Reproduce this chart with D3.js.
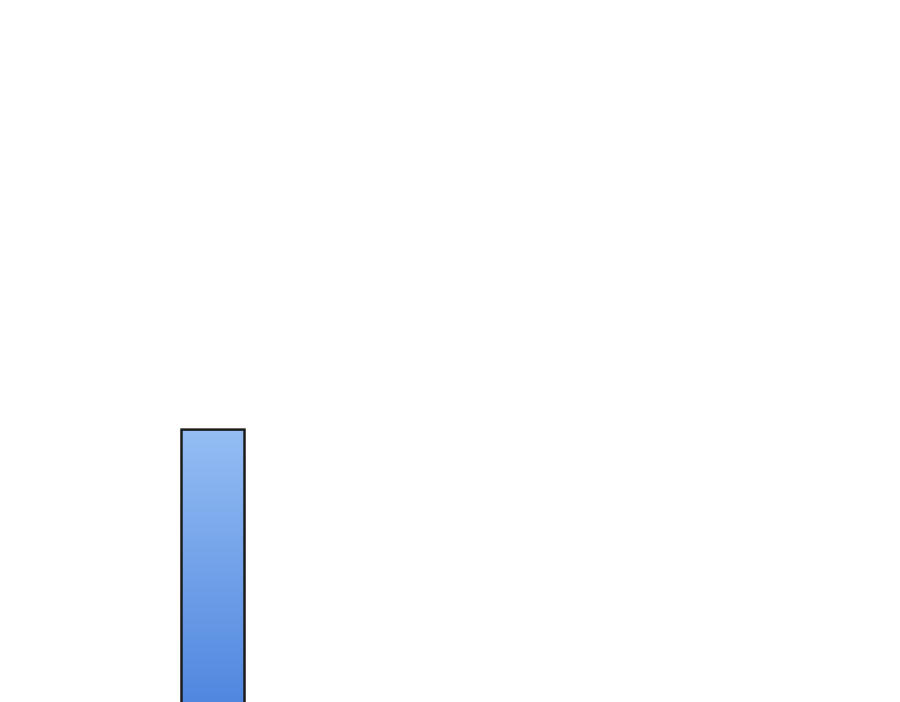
<!DOCTYPE html>
<html><head><meta charset="utf-8">
<script src="https://cdn.jsdelivr.net/npm/d3@7"></script>
<style>html,body{margin:0;padding:0;background:#fff;overflow:hidden}</style>
</head><body>
<svg id="c" width="900" height="702"></svg>
<script>
const categories = ["A"];
const values = [40];

const svg = d3.select("#c");
const x = d3.scaleBand().domain(categories).range([150, 276]).paddingInner(0).paddingOuter(0.5);
const y = d3.scaleLinear().domain([0, 100]).range([716, 0]);

const defs = svg.append("defs");
const g = defs.append("linearGradient").attr("id","bg").attr("x1",0).attr("y1",0).attr("x2",0).attr("y2",1);
g.append("stop").attr("offset","0%").attr("stop-color","#94bdf3");
g.append("stop").attr("offset","100%").attr("stop-color","#4d84de");

svg.selectAll("rect.bar").data(values).join("rect")
  .attr("class","bar")
  .attr("x",(d,i)=>x(categories[i]))
  .attr("y",d=>y(d))
  .attr("width",x.bandwidth())
  .attr("height",d=>y(0)-y(d))
  .attr("fill","url(#bg)")
  .attr("stroke","#1b1b1b")
  .attr("stroke-width",2.5);
</script>
</body></html>
